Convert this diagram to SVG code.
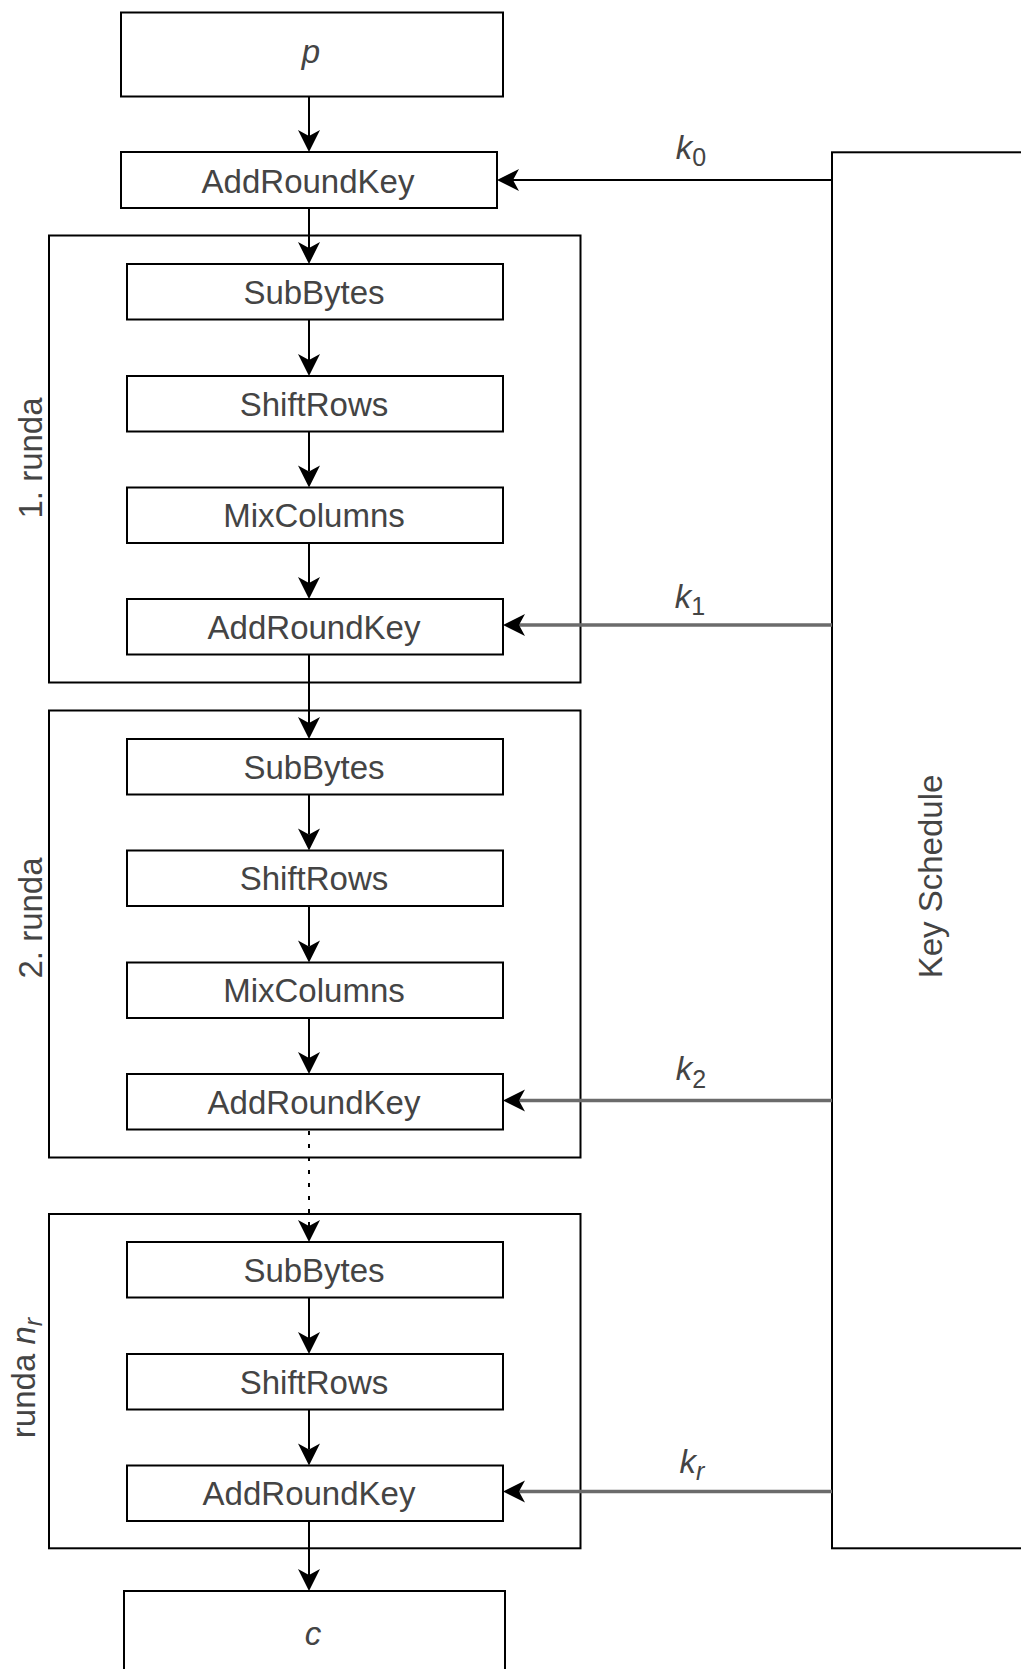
<svg xmlns="http://www.w3.org/2000/svg" width="1021" height="1669" viewBox="0 0 1021 1669">
<style>
.box{fill:#fff;stroke:#000;stroke-width:2}
.grp{fill:none;stroke:#000;stroke-width:2}
.lbl{font-family:"Liberation Sans",Arial,sans-serif;font-size:33px;fill:#444;text-anchor:middle}
.it{font-style:italic}
.con{fill:none;stroke:#000;stroke-width:2}
.key{fill:none;stroke:#6b6b6b;stroke-width:3.5}
.dot{fill:none;stroke:#000;stroke-width:2;stroke-dasharray:4 9}
</style>
<defs>
<marker id="arr" markerUnits="userSpaceOnUse" viewBox="-8 -12 26 24" markerWidth="26" markerHeight="24" refX="0" refY="0" orient="auto">
<path d="M-6,-11 L16,0 L-6,11 L0,0 Z" fill="#000"/>
</marker>
</defs>
<rect width="1021" height="1669" fill="#fff"/>

<g id="round1">
<rect class="grp" x="49" y="235.5" width="531.5" height="447"/>
<text class="lbl" transform="translate(41.5,458) rotate(-90)">1. runda</text>
</g>
<g id="round2">
<rect class="grp" x="49" y="710.5" width="531.5" height="447"/>
<text class="lbl" transform="translate(41.5,918) rotate(-90)">2. runda</text>
</g>
<g id="round3">
<rect class="grp" x="49" y="1214" width="531.5" height="334.3"/>
<text class="lbl" transform="translate(35,1378) rotate(-90)">runda <tspan class="it">n</tspan><tspan class="it" font-size="25" dy="7">r</tspan></text>
</g>
<g id="keyschedule">
<rect class="box" x="832" y="152.3" width="250" height="1396"/>
<text class="lbl" transform="translate(941.5,876.5) rotate(-90)">Key Schedule</text>
</g>

<g id="p">
<rect class="box" x="121" y="12.5" width="382" height="84"/>
<text class="lbl it" x="311" y="63">p</text>
</g>
<g id="ark0">
<rect class="box" x="121" y="152" width="376" height="56"/>
<text class="lbl" x="308" y="192.5">AddRoundKey</text>
</g>

<g id="sb1"><rect class="box" x="127" y="264" width="376" height="55.5"/><text class="lbl" x="314" y="303.5">SubBytes</text></g>
<g id="sr1"><rect class="box" x="127" y="376" width="376" height="55.5"/><text class="lbl" x="314" y="415.5">ShiftRows</text></g>
<g id="mc1"><rect class="box" x="127" y="487.5" width="376" height="55.5"/><text class="lbl" x="314" y="527">MixColumns</text></g>
<g id="ark1"><rect class="box" x="127" y="599" width="376" height="55.5"/><text class="lbl" x="314" y="638.5">AddRoundKey</text></g>

<g id="sb2"><rect class="box" x="127" y="739" width="376" height="55.5"/><text class="lbl" x="314" y="778.5">SubBytes</text></g>
<g id="sr2"><rect class="box" x="127" y="850.5" width="376" height="55.5"/><text class="lbl" x="314" y="890">ShiftRows</text></g>
<g id="mc2"><rect class="box" x="127" y="962.5" width="376" height="55.5"/><text class="lbl" x="314" y="1002">MixColumns</text></g>
<g id="ark2"><rect class="box" x="127" y="1074" width="376" height="55.5"/><text class="lbl" x="314" y="1113.5">AddRoundKey</text></g>

<g id="sb3"><rect class="box" x="127" y="1242" width="376" height="55.5"/><text class="lbl" x="314" y="1281.5">SubBytes</text></g>
<g id="sr3"><rect class="box" x="127" y="1354" width="376" height="55.5"/><text class="lbl" x="314" y="1393.5">ShiftRows</text></g>
<g id="ark3"><rect class="box" x="127" y="1465.5" width="376" height="55.5"/><text class="lbl" x="309" y="1505">AddRoundKey</text></g>

<g id="c">
<rect class="box" x="124" y="1591" width="381" height="85"/>
<text class="lbl it" x="313" y="1645">c</text>
</g>

<g id="connectors">
<line class="con" x1="309" y1="96.5" x2="309" y2="136" marker-end="url(#arr)"/>
<line class="con" x1="309" y1="208" x2="309" y2="248" marker-end="url(#arr)"/>
<line class="con" x1="309" y1="319.5" x2="309" y2="360" marker-end="url(#arr)"/>
<line class="con" x1="309" y1="431.5" x2="309" y2="471.5" marker-end="url(#arr)"/>
<line class="con" x1="309" y1="543" x2="309" y2="583" marker-end="url(#arr)"/>
<line class="con" x1="309" y1="654.5" x2="309" y2="723" marker-end="url(#arr)"/>
<line class="con" x1="309" y1="794.5" x2="309" y2="834.5" marker-end="url(#arr)"/>
<line class="con" x1="309" y1="906" x2="309" y2="946.5" marker-end="url(#arr)"/>
<line class="con" x1="309" y1="1018" x2="309" y2="1058" marker-end="url(#arr)"/>
<line class="dot" x1="309" y1="1131" x2="309" y2="1226" marker-end="url(#arr)"/>
<line class="con" x1="309" y1="1297.5" x2="309" y2="1338" marker-end="url(#arr)"/>
<line class="con" x1="309" y1="1409.5" x2="309" y2="1449.5" marker-end="url(#arr)"/>
<line class="con" x1="309" y1="1521" x2="309" y2="1575" marker-end="url(#arr)"/>

<line class="con" x1="832" y1="180" x2="513" y2="180" marker-end="url(#arr)"/>
<text class="lbl it" x="691" y="159">k<tspan font-size="25" dy="7" font-style="normal">0</tspan></text>
<line class="key" x1="832" y1="625" x2="519" y2="625" marker-end="url(#arr)"/>
<text class="lbl it" x="690" y="608">k<tspan font-size="25" dy="7" font-style="normal">1</tspan></text>
<line class="key" x1="832" y1="1100.5" x2="519" y2="1100.5" marker-end="url(#arr)"/>
<text class="lbl it" x="691" y="1080">k<tspan font-size="25" dy="8" font-style="normal">2</tspan></text>
<line class="key" x1="832" y1="1491.5" x2="519" y2="1491.5" marker-end="url(#arr)"/>
<text class="lbl it" x="692" y="1473">k<tspan font-size="25" dy="7">r</tspan></text>
</g>
</svg>
